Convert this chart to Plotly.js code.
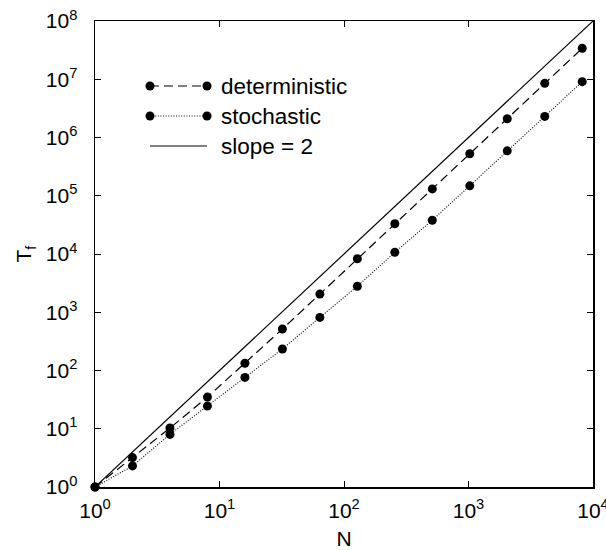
<!DOCTYPE html>
<html>
<head>
<meta charset="utf-8">
<script src="https://cdn.plot.ly/plotly-3.0.1.min.js"></script>
<style>html,body{margin:0;padding:0;background:#fff;}#chart{width:606px;height:550px;}</style>
</head>
<body>
<div id="chart"></div>
<script>
// Data
const N = [1, 2, 4, 8, 16, 32, 64, 128, 256, 512, 1024, 2048, 4096, 8192];
const deterministic = [1, 3.2, 10.3, 35, 133, 515, 2050, 8300, 33000, 131000, 525000, 2100000, 8500000, 34000000];
const stochastic = [1, 2.3, 8.0, 24.5, 76, 234, 815, 2800, 10700, 38000, 148000, 590000, 2300000, 9100000];
const slopeX = [1, 10000];
const slopeY = [1, 100000000];
const xTickVals = [1, 10, 100, 1000, 10000];
const xTickText = ['10<sup>0</sup>', '10<sup>1</sup>', '10<sup>2</sup>', '10<sup>3</sup>', '10<sup>4</sup>'];
const yTickVals = [1, 10, 100, 1e3, 1e4, 1e5, 1e6, 1e7, 1e8];
const yTickText = ['10<sup>0</sup>', '10<sup>1</sup>', '10<sup>2</sup>', '10<sup>3</sup>', '10<sup>4</sup>', '10<sup>5</sup>', '10<sup>6</sup>', '10<sup>7</sup>', '10<sup>8</sup>'];
const legendLabels = ['deterministic', 'stochastic', 'slope = 2'];

const FONT = 'Liberation Sans, Arial, sans-serif';

const traces = [
  {x: slopeX, y: slopeY, mode: 'lines', line: {color: '#000', width: 1.2}, cliponaxis: false, hoverinfo: 'skip'},
  {x: N, y: deterministic, mode: 'lines+markers', line: {color: '#000', width: 1.2, dash: '9px,5px'},
   marker: {color: '#000', size: 9}, cliponaxis: false},
  {x: N, y: stochastic, mode: 'lines+markers', line: {color: '#000', width: 1.1, dash: '1px,1.6px'},
   marker: {color: '#000', size: 9}, cliponaxis: false}
];

// Manual legend (pixel layout converted to paper coords)
const L = 95, R = 593, T = 21, B = 487;
const px = v => (v - L) / (R - L);
const py = v => (B - v) / (B - T);
const rows = [86, 116, 146];
const shapes = [];
const annotations = [];
const dashes = ['9px,5px', '1px,1.6px', 'solid'];
rows.forEach((yy, i) => {
  shapes.push({type: 'line', xref: 'paper', yref: 'paper', x0: px(150), x1: px(207), y0: py(yy), y1: py(yy),
    line: {color: '#000', width: i === 1 ? 1.1 : 1.2, dash: dashes[i]}});
  if (i < 2) {
    [150, 207].forEach(cx => {
      shapes.push({type: 'circle', xref: 'paper', yref: 'paper', xsizemode: 'pixel', ysizemode: 'pixel',
        xanchor: px(cx), yanchor: py(yy), x0: -4.5, x1: 4.5, y0: -4.5, y1: 4.5,
        fillcolor: '#000', line: {width: 0}});
    });
  }
  annotations.push({xref: 'paper', yref: 'paper', x: px(219), y: py(yy), xanchor: 'left', yanchor: 'middle',
    text: legendLabels[i], showarrow: false, font: {family: FONT, size: 22.5, color: '#000'}});
});

const axisCommon = {
  type: 'log', showgrid: false, zeroline: false, showline: true, linecolor: '#000', linewidth: 1.5,
  mirror: 'ticks', ticks: 'inside', ticklen: 6, tickwidth: 1, tickcolor: '#000',
  tickfont: {family: FONT, size: 21, color: '#000'}, tickmode: 'array', ticklabeloverflow: 'allow'
};

const layout = {
  width: 606, height: 550,
  margin: {l: 95, r: 13, t: 21, b: 63},
  paper_bgcolor: '#fff', plot_bgcolor: '#fff',
  showlegend: false,
  font: {family: FONT, color: '#000'},
  xaxis: Object.assign({}, axisCommon, {range: [0, 4.00001], tickvals: xTickVals, ticktext: xTickText,
    ticklabelstandoff: 4,
    title: {text: 'N', font: {family: FONT, size: 21, color: '#000'}, standoff: 10}}),
  yaxis: Object.assign({}, axisCommon, {range: [0, 8.00001], tickvals: yTickVals, ticktext: yTickText,
    ticklabelstandoff: 12,
    title: {text: 'T<sub>f</sub>', font: {family: FONT, size: 21, color: '#000'}, standoff: 8}}),
  shapes: shapes,
  annotations: annotations
};

Plotly.newPlot('chart', traces, layout, {displayModeBar: false, staticPlot: true});
</script>
</body>
</html>
